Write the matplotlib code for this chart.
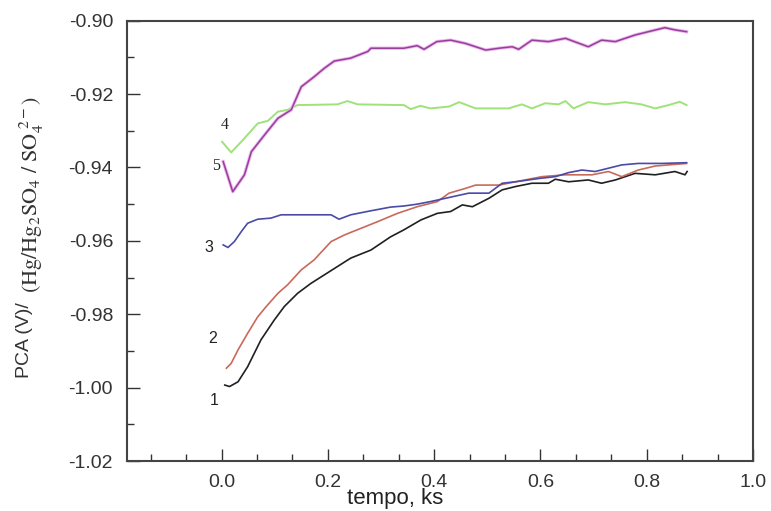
import numpy as np
import matplotlib
matplotlib.use("Agg")
import matplotlib.pyplot as plt
from matplotlib.ticker import MultipleLocator

plt.rcParams['font.family'] = ['Liberation Sans', 'DejaVu Sans']
plt.rcParams['mathtext.fontset'] = 'stix'

# DATA, tempo in ks, potential in V
t1 = [0.006, 0.015, 0.031, 0.049, 0.074, 0.099, 0.118, 0.143, 0.168, 0.193, 0.218, 0.243,
      0.281, 0.318, 0.343, 0.375, 0.406, 0.431, 0.453, 0.472, 0.503, 0.528, 0.553, 0.584,
      0.615, 0.628, 0.653, 0.690, 0.715, 0.741, 0.778, 0.816, 0.853, 0.872, 0.876]
v1 = [-0.9993, -0.9997, -0.9984, -0.9943, -0.9870, -0.9816, -0.9779, -0.9743, -0.9716,
      -0.9693, -0.9670, -0.9647, -0.9625, -0.9589, -0.9570, -0.9543, -0.9525, -0.9520,
      -0.9502, -0.9507, -0.9484, -0.9461, -0.9452, -0.9443, -0.9443, -0.9432, -0.9439,
      -0.9434, -0.9443, -0.9434, -0.9416, -0.9420, -0.9411, -0.9420, -0.9411]

t2 = [0.009, 0.018, 0.031, 0.049, 0.068, 0.084, 0.106, 0.124, 0.150, 0.174, 0.206, 0.231,
      0.262, 0.293, 0.331, 0.368, 0.406, 0.428, 0.459, 0.478, 0.522, 0.553, 0.603, 0.647,
      0.697, 0.728, 0.753, 0.784, 0.816, 0.875]
v2 = [-0.9947, -0.9934, -0.9897, -0.9852, -0.9807, -0.9779, -0.9743, -0.9720, -0.9679,
      -0.9652, -0.9602, -0.9584, -0.9566, -0.9548, -0.9525, -0.9507, -0.9493, -0.9470,
      -0.9457, -0.9448, -0.9448, -0.9439, -0.9425, -0.9420, -0.9420, -0.9411, -0.9425,
      -0.9407, -0.9396, -0.9389]

t3 = [0.003, 0.012, 0.024, 0.037, 0.049, 0.068, 0.093, 0.112, 0.206, 0.221, 0.243, 0.281,
      0.318, 0.343, 0.368, 0.393, 0.418, 0.465, 0.503, 0.528, 0.553, 0.597, 0.628, 0.653,
      0.678, 0.703, 0.728, 0.753, 0.784, 0.828, 0.875]
v3 = [-0.9611, -0.9618, -0.9602, -0.9575, -0.9552, -0.9541, -0.9538, -0.9529, -0.9529,
      -0.9541, -0.9529, -0.9518, -0.9508, -0.9505, -0.9500, -0.9493, -0.9485, -0.9470,
      -0.9470, -0.9443, -0.9439, -0.9430, -0.9425, -0.9414, -0.9407, -0.9411, -0.9402,
      -0.9393, -0.9389, -0.9389, -0.9387]

t4 = [0.001, 0.018, 0.037, 0.068, 0.087, 0.106, 0.124, 0.143, 0.218, 0.237, 0.256, 0.343,
      0.356, 0.374, 0.393, 0.428, 0.447, 0.478, 0.540, 0.565, 0.584, 0.609, 0.634, 0.647,
      0.662, 0.690, 0.722, 0.759, 0.790, 0.816, 0.841, 0.862, 0.875]
v4 = [-0.9330, -0.9359, -0.9330, -0.9280, -0.9273, -0.9248, -0.9243, -0.9230, -0.9228,
      -0.9219, -0.9228, -0.9230, -0.9241, -0.9232, -0.9239, -0.9234, -0.9222, -0.9239,
      -0.9239, -0.9228, -0.9239, -0.9225, -0.9228, -0.9219, -0.9239, -0.9222, -0.9228,
      -0.9222, -0.9228, -0.9239, -0.9230, -0.9221, -0.9230]

t5 = [0.003, 0.021, 0.043, 0.056, 0.081, 0.106, 0.131, 0.150, 0.174, 0.193, 0.212, 0.243,
      0.275, 0.281, 0.343, 0.368, 0.381, 0.405, 0.431, 0.459, 0.497, 0.522, 0.547, 0.559,
      0.584, 0.615, 0.647, 0.690, 0.715, 0.741, 0.778, 0.803, 0.834, 0.853, 0.875]
v5 = [-0.9384, -0.9466, -0.9420, -0.9357, -0.9311, -0.9266, -0.9243, -0.9180, -0.9153,
      -0.9130, -0.9110, -0.9102, -0.9084, -0.9075, -0.9075, -0.9068, -0.9078, -0.9057,
      -0.9053, -0.9062, -0.9080, -0.9075, -0.9071, -0.9078, -0.9053, -0.9057, -0.9048,
      -0.9071, -0.9053, -0.9057, -0.9039, -0.9030, -0.9019, -0.9025, -0.9030]

labels = ['1', '2', '3', '4', '5']
label_t = [-0.014, -0.016, -0.023, 0.006, -0.010]
label_v = [-1.0034, -0.9865, -0.9617, -0.9284, -0.9397]

fig = plt.figure(figsize=(7.71, 5.11), dpi=100)
ax = fig.add_axes([0.1647, 0.0978, 0.812, 0.8617])

ax.plot(t1, v1, color='#202020', lw=1.2)
ax.plot(t2, v2, color='#c86a5a', lw=1.2)
ax.plot(t3, v3, color='#4a4aa8', lw=1.2)
ax.plot(t4, v4, color='#9fe27a', lw=1.4)
ax.plot(t5, v5, color='#eeb4ee', lw=2.4)  # light halo
ax.plot(t5, v5, color='#94409a', lw=1.1)

for i, lab in enumerate(labels):
    fam = 'Liberation Serif' if lab in ('4', '5') else 'Liberation Sans'
    ax.text(label_t[i], label_v[i], lab, fontsize=11.5, family=fam,
            ha='center', va='center', color='#222222')

ax.set_xlim(-0.178, 1.0)
ax.set_ylim(-1.02, -0.90)
ax.set_xticks([0.0, 0.2, 0.4, 0.6, 0.8, 1.0])
ax.set_yticks([-1.02, -1.00, -0.98, -0.96, -0.94, -0.92, -0.90])
ax.xaxis.set_minor_locator(MultipleLocator(0.2 / 3))
ax.yaxis.set_minor_locator(MultipleLocator(0.01))
ax.xaxis.set_major_formatter(plt.FuncFormatter(lambda x, p: f"{x:.1f}"))
ax.yaxis.set_major_formatter(plt.FuncFormatter(lambda y, p: f"{y:.2f}"))

ax.tick_params(which='both', direction='in', top=False, right=False,
               colors='#333333', labelsize=14, width=1.0)
ax.tick_params(axis='y', which='major', length=9, pad=10)
ax.tick_params(axis='x', which='major', length=9, pad=9)
ax.tick_params(which='minor', length=5)
for s in ax.spines.values():
    s.set_color('#444444')
    s.set_linewidth(1.5)

# x label sits a bit left of the axes centre in the original
fig.text(0.512, 0.003, 'tempo, ks', fontsize=16, color='#222222',
         family='Liberation Sans', ha='center', va='bottom')

# y label: sans part + Times-like formula part
fig.text(0.032, 0.335, 'PCA (V)/', rotation=90, fontsize=14, color='#333333',
         family='Liberation Sans', ha='center', va='center')
fig.text(0.042, 0.618, r'$\mathrm{(Hg/Hg_2SO_4\ /\ SO_4^{\ 2-})}$', rotation=90,
         fontsize=16, color='#333333', ha='center', va='center')

fig.savefig('out.png', dpi=100)
